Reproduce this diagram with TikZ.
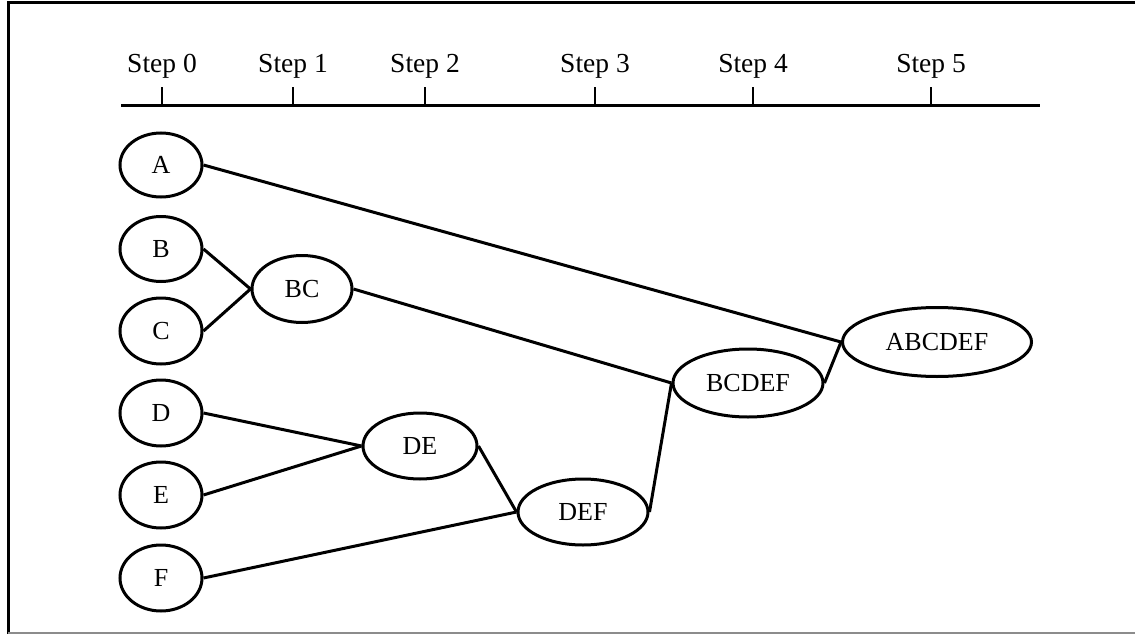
\documentclass[tikz,border=0pt]{standalone}
\usepackage{fontspec}
\setmainfont{Liberation Serif}
\usetikzlibrary{shapes.geometric}
\begin{document}
\begin{tikzpicture}[x=1pt,y=-1pt,
  cluster/.style={draw, ellipse, line width=3pt, inner sep=0pt, font=\fontsize{26}{30}\selectfont},
  link/.style={line width=3pt},
  steplabel/.style={anchor=base, inner sep=0pt, font=\fontsize{27.5}{32}\selectfont},
  axisline/.style={line width=2.2pt}]
\useasboundingbox (0,0) rectangle (1135,634);
% frame
\draw[line width=3.2pt] (8.5,2) -- (8.5,634);
\draw[line width=3pt] (7,3) -- (1135,3);
\draw[line width=1.4pt, black!45] (8,633) -- (1135,633);
% axis
\draw[axisline] (121,105.5) -- (1040,105.5);
\foreach \x/\n in {162/0,293/1,425/2,595/3,753/4,931/5}{
  \coordinate (t\n) at (\x,105.5);
  \draw[axisline] (\x,87) -- (t\n);
  \node[steplabel] (s\n) at (\x,73) {Step \n};
}
% nodes
\node[cluster, minimum width=82pt, minimum height=64pt] (A) at (161,165) {A};
\node[cluster, minimum width=82pt, minimum height=65pt] (B) at (161,249) {B};
\node[cluster, minimum width=82pt, minimum height=66pt] (C) at (161,331) {C};
\node[cluster, minimum width=82pt, minimum height=66pt] (D) at (161,413) {D};
\node[cluster, minimum width=82pt, minimum height=66pt] (E) at (161,495) {E};
\node[cluster, minimum width=82pt, minimum height=66pt] (F) at (161,578) {F};
\node[cluster, minimum width=100pt, minimum height=67pt] (BC) at (302,289) {BC};
\node[cluster, minimum width=114pt, minimum height=66pt] (DE) at (420,446) {DE};
\node[cluster, minimum width=130pt, minimum height=66pt] (DEF) at (583,512) {DEF};
\node[cluster, minimum width=150pt, minimum height=68pt] (BCDEF) at (748,383) {BCDEF};
\node[cluster, minimum width=189pt, minimum height=69pt] (ABCDEF) at (937,342) {ABCDEF};
% connectors
\draw[link] (A.east) -- (ABCDEF.west);
\draw[link] (B.east) -- (BC.west);
\draw[link] (C.east) -- (BC.west);
\draw[link] (BC.east) -- (BCDEF.west);
\draw[link] (D.east) -- (DE.west);
\draw[link] (E.east) -- (DE.west);
\draw[link] (DE.east) -- (DEF.west);
\draw[link] (F.east) -- (DEF.west);
\draw[link] (DEF.east) -- (BCDEF.west);
\draw[link] (BCDEF.east) -- (ABCDEF.west);
\end{tikzpicture}
\end{document}
